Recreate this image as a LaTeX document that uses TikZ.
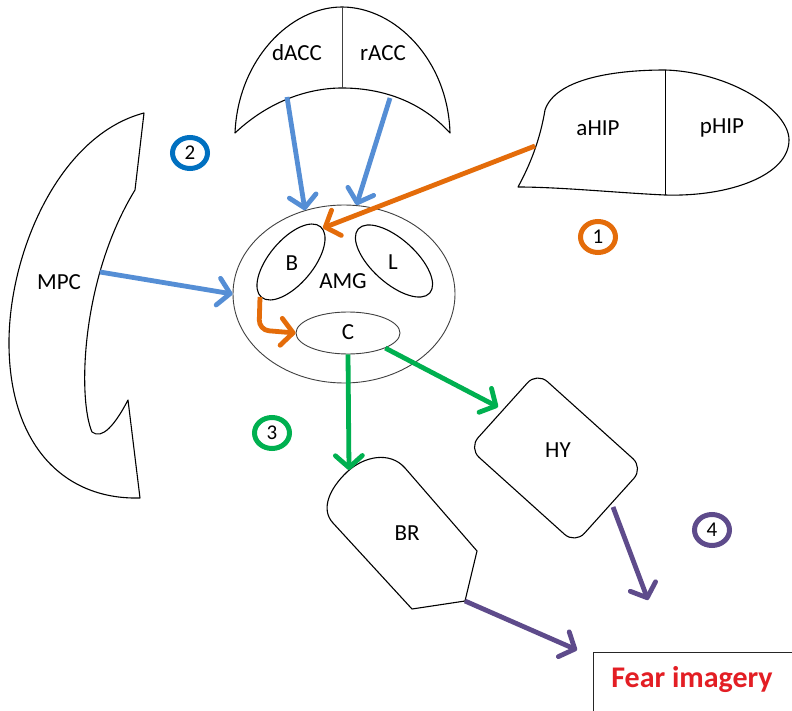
\documentclass[tikz,border=0pt]{standalone}
\usepackage{fontspec}
\setmainfont{Carlito}
\usetikzlibrary{arrows.meta,shapes.geometric}
\definecolor{flowblue}{RGB}{85,142,213}
\definecolor{flowor}{RGB}{228,108,10}
\definecolor{flowgreen}{RGB}{0,176,80}
\definecolor{flowpurple}{RGB}{94,75,139}
\definecolor{badgeblue}{RGB}{0,112,192}
\definecolor{fearred}{RGB}{227,30,36}
\begin{document}
\begin{tikzpicture}[x=1pt,y=-1pt]
\tikzset{
  region/.style={draw=black, line width=1.1pt, line join=round},
  thinregion/.style={draw=black!75, line width=0.9pt},
  lbl/.style={font=\fontsize{23}{27}\selectfont, inner sep=0pt},
  flow/.style={line width=4.8pt, -{Straight Barb[length=12pt,width=27pt,round]}},
  badge/.style={ellipse, draw, line width=5pt, minimum width=35pt, minimum height=31pt,
                inner sep=0pt, font=\fontsize{21}{24}\selectfont},
}
\useasboundingbox (0,0) rectangle (792,711);
\fill[white] (0,0) rectangle (792,711);

% anterior cingulate cortex (crescent)
\draw[region] (235,133) .. controls (238,60) and (290,7) .. (342,7)
      .. controls (395,7) and (448,60) .. (450,133)
      .. controls (420,100) and (380,88) .. (342,88)
      .. controls (310,88) and (270,100) .. (235,133) -- cycle;
\draw[thinregion] (342,7) -- (342,88);
\node[lbl] (dacc) at (297,53) {dACC};
\node[lbl] (racc) at (383,53) {rACC};
\coordinate (daccout) at (287,97);
\coordinate (raccout) at (390,98);

% hippocampus
\draw[region] (518,187) .. controls (530,165) and (540,140) .. (545,110)
      .. controls (555,80) and (610,70) .. (665,70)
      .. controls (730,72) and (789,110) .. (789,140)
      .. controls (789,175) and (730,197) .. (665,195)
      .. controls (620,193) and (560,187) .. (518,187) -- cycle;
\draw[line width=0.9pt] (665,70) -- (665,195);
\node[lbl] (ahip) at (598,128) {aHIP};
\node[lbl] (phip) at (722,128) {pHIP};
\coordinate (hipout) at (535,146);

% medial prefrontal cortex
\draw[region] (144,113) .. controls (60,135) and (10,250) .. (9,340)
      .. controls (8,440) and (60,500) .. (140,498)
      -- (128,400)
      .. controls (115,425) and (102,440) .. (92,432)
      .. controls (78,400) and (80,280) .. (135,190) -- cycle;
\node[lbl] (mpc) at (59,282) {MPC};
\coordinate (mpcout) at (100,272);

% amygdala with its nuclei
\node[ellipse, thinregion, minimum width=222pt, minimum height=178pt] (amg) at (344,294) {};
\node[lbl] (amglbl) at (343,281) {AMG};
\node[ellipse, region, minimum width=92pt, minimum height=44pt, rotate=50] (bnuc) at (291,262) {};
\node[lbl] (blbl) at (292,263) {B};
\node[ellipse, region, minimum width=96pt, minimum height=44pt, rotate=-42] (lnuc) at (394,261) {};
\node[lbl] (llbl) at (393,262) {L};
\node[ellipse, thinregion, minimum width=104pt, minimum height=42pt] (cnuc) at (348,333) {};
\node[lbl] (clbl) at (348,332) {C};
\coordinate (bin) at (323,228);
\coordinate (bout) at (260,297);

% brainstem
\draw[region] (412,609) -- (333,523)
      .. controls (320,509) and (330,488) .. (347,472)
      .. controls (364,456) and (390,451) .. (405,468)
      -- (477,551) -- (465,601) -- cycle;
\node[lbl] (br) at (407,533) {BR};
\coordinate (brin) at (349,470);
\coordinate (brout) at (465,601);

% hypothalamus
\node[region, rounded corners=14pt, minimum width=143pt, minimum height=102pt, rotate=-42] (hybox) at (556,458) {};
\node[lbl] (hy) at (558,450) {HY};
\coordinate (hyin) at (498,407);
\coordinate (hyout) at (613,507);

% outcome box
\node[draw=black!85, line width=1pt, anchor=north west, minimum width=210pt, minimum height=70pt] (fearbox) at (593,652) {};
\node[font=\fontsize{30}{34}\selectfont\bfseries, text=fearred, inner sep=0pt] (fear) at (692,680) {Fear imagery};
\coordinate (fearA) at (648,600);
\coordinate (fearB) at (577,650);

% pathway 1
\draw[flow, flowor] (hipout) -- (bin);
\draw[flow, flowor, rounded corners=10pt] (bout) -- (259,330) -- (cnuc.west);
% pathway 2
\draw[flow, flowblue] (daccout) -- (amg.115);
\draw[flow, flowblue] (raccout) -- (amg.82);
\draw[flow, flowblue] (mpcout) -- (amg.180);
% pathway 3
\draw[flow, flowgreen] (cnuc.south) -- (brin);
\draw[flow, flowgreen] (cnuc.-22) -- (hyin);
% pathway 4
\draw[flow, flowpurple] (hyout) -- (fearA);
\draw[flow, flowpurple] (brout) -- (fearB);

% pathway numbers
\node[badge, draw=flowor] (n1) at (598,237) {1};
\node[badge, draw=badgeblue] (n2) at (190,153) {2};
\node[badge, draw=flowgreen] (n3) at (272,433) {3};
\node[badge, draw=flowpurple] (n4) at (712,530) {4};
\end{tikzpicture}
\end{document}
